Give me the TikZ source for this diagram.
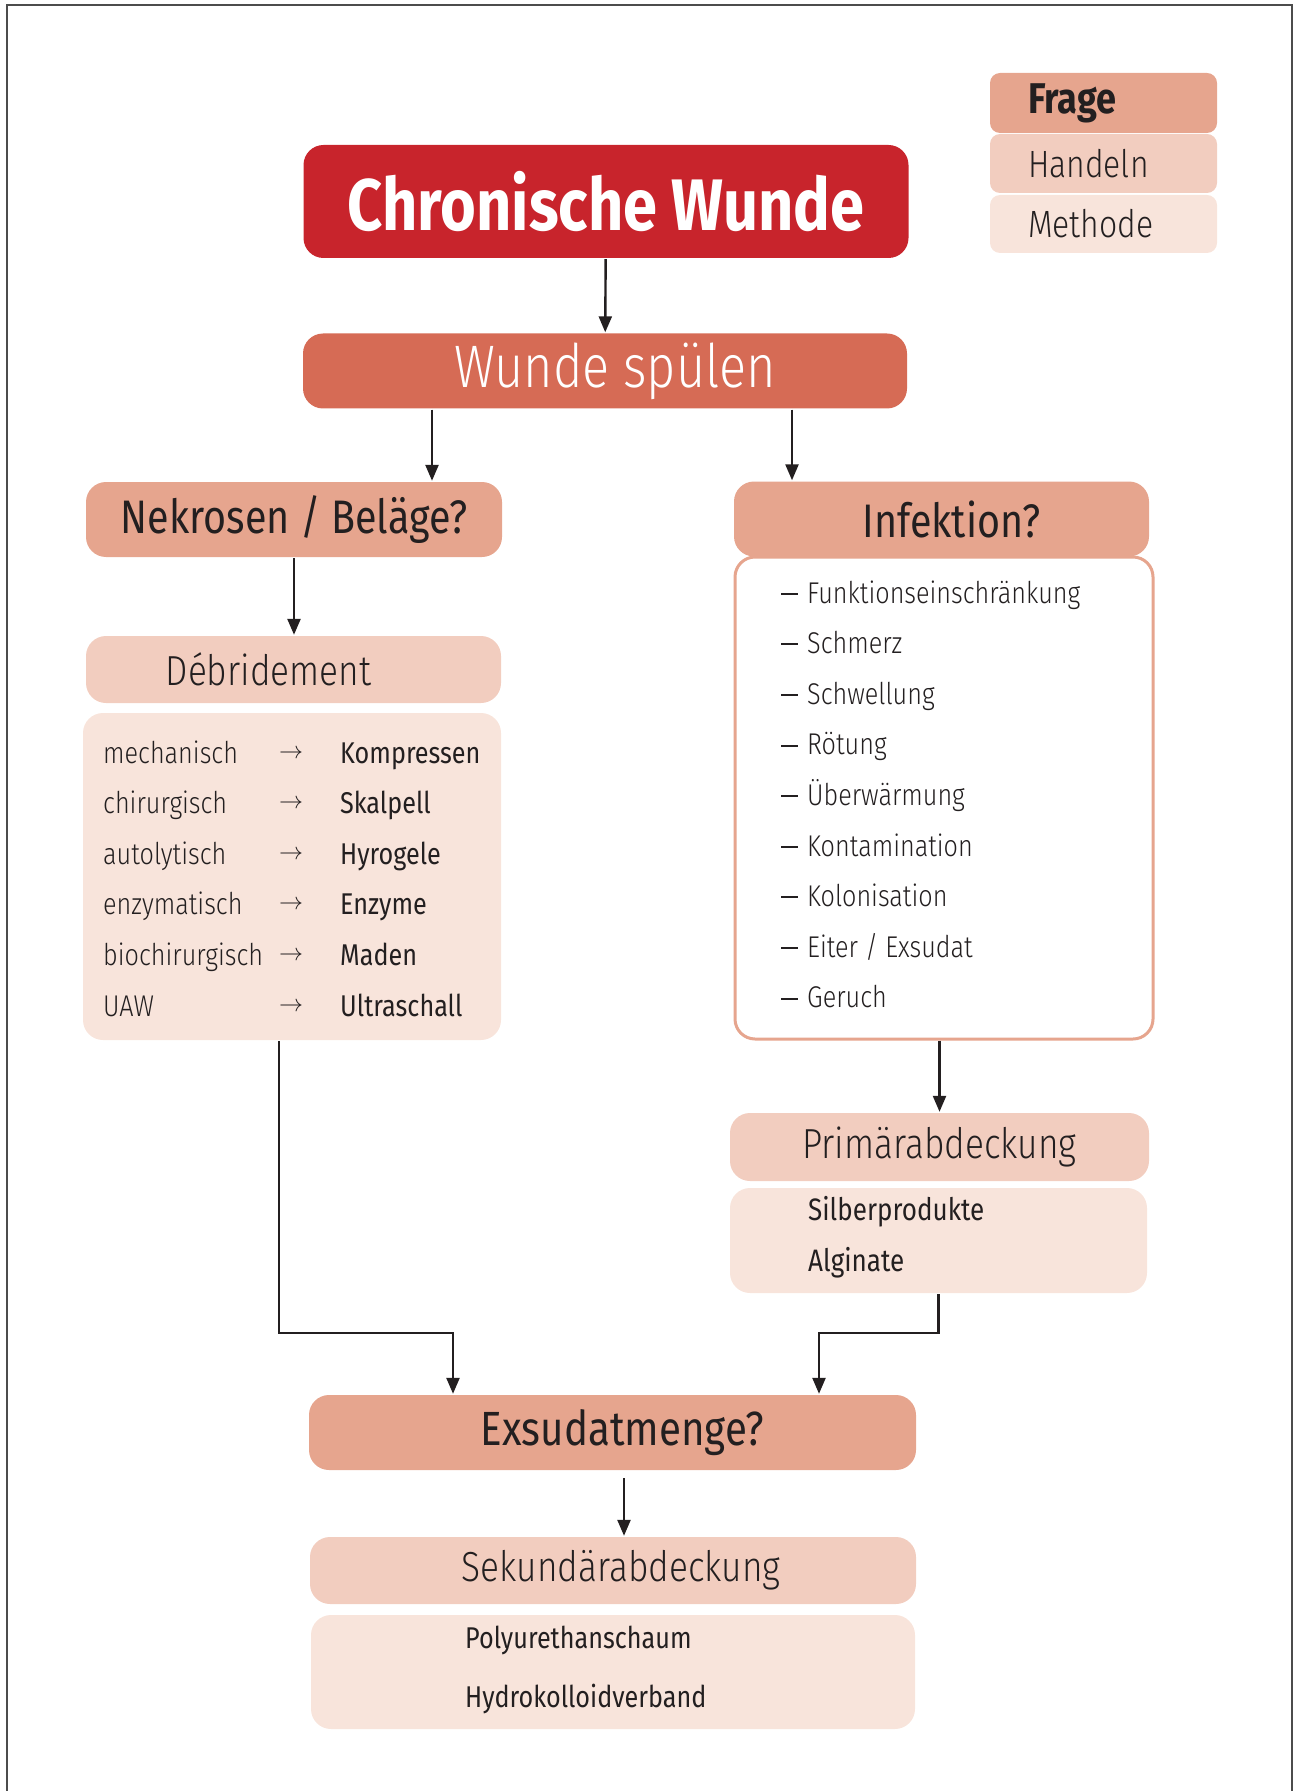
\documentclass[tikz,border=0pt]{standalone}
\usepackage{fontspec}
\setmainfont{Fira Sans Light}[FakeStretch=0.84, BoldFont={Fira Sans Bold}]
\newfontfamily\regfont{Fira Sans}[FakeStretch=0.84]
\usetikzlibrary{arrows.meta,positioning}
\definecolor{wundrot}{HTML}{C8242C}
\definecolor{spuelrot}{HTML}{D66B55}
\definecolor{frage}{HTML}{E6A58E}
\definecolor{handeln}{HTML}{F2CDBF}
\definecolor{methode}{HTML}{F8E4DB}
\definecolor{ink}{HTML}{231F20}
\newcommand{\strich}{\rule[4.1pt]{8.5pt}{1pt}\hspace{4.5pt}}
\newcommand{\pfeil}{{\fontsize{12}{14}\selectfont\raisebox{2.5pt}{$\rightarrow$}}}

\begin{document}
\begin{tikzpicture}[x=0.5pt,y=-0.5pt,->,>={Triangle[length=8pt,width=6.5pt]},line width=1.2pt,color=ink]
   \useasboundingbox (0,0) rectangle (1294,1791);
   \tikzstyle{box}=[rectangle, rounded corners=10pt, inner sep=0pt, text=ink]
   \tikzstyle{frage}=[box, fill=frage, minimum height=37.5pt, font=\regfont\fontsize{23.5}{26}\selectfont]
   \tikzstyle{handeln}=[box, fill=handeln, minimum height=33.5pt, font=\fontsize{21}{24}\selectfont]
   \tikzstyle{methode}=[box, fill=methode]
   \tikzstyle{zeile}=[inner sep=0pt, font=\fontsize{15}{18}\selectfont]
   \tikzstyle{legende}=[box, rounded corners=5pt, minimum width=113.5pt, text width=75.5pt, align=left, font=\fontsize{19}{22}\selectfont]
   % frame, open at the bottom
   \draw[-, line width=1pt, black!70] (7,1791) -- (7,5) -- (1292,5) -- (1292,1791);
   % legend
   \node[legende, fill=frage, minimum height=30pt, font=\bfseries\fontsize{21.5}{24}\selectfont] (lfrage) at (1103.5,103) {Frage};
   \node[legende, fill=handeln, minimum height=29.5pt] (lhandeln) at (1103.5,163.5) {Handeln};
   \node[legende, fill=methode, minimum height=29pt] (lmethode) at (1103.5,224) {Methode};
   % main column
   \node[box, fill=wundrot, minimum width=302.5pt, minimum height=56.5pt, text=white, font=\bfseries\fontsize{36.5}{41}\selectfont] (chronisch) at (606,201.5) {Chronische Wunde};
   \node[box, fill=spuelrot, minimum width=302pt, minimum height=37.5pt, text=white, font=\fontsize{30}{34}\selectfont] (spuelen) at (605,371) {\hspace*{10pt}Wunde spülen};
   \node[frage, minimum width=208pt] (nekrosen) at (294,519.5) {Nekrosen / Beläge?};
   \node[box, fill=white, draw=frage, line width=1.5pt, minimum width=209pt, minimum height=241pt] (symptome) at (944,798) {};
   \node[frage, minimum width=207.5pt] (infektion) at (941.5,519) {\hspace*{10pt}Infektion?};
   % left branch
   \node[handeln, minimum width=207.5pt] (debride) at (293.5,669.5) {\hspace{-25pt}Débridement};
   \node[methode, minimum width=209pt, minimum height=163.5pt] (verfahren) at (292,876.5) {};
   \foreach \i/\art/\mittel in {0/mechanisch/Kompressen,1/chirurgisch/Skalpell,2/autolytisch/Hyrogele,3/enzymatisch/Enzyme,4/biochirurgisch/Maden,5/UAW/Ultraschall} {
       \node[zeile, anchor=base west] (art\i) at (102,763+50.6*\i) {\art};
       \node[zeile, anchor=base] (pfeil\i) at (291,763+50.6*\i) {\pfeil};
       \node[zeile, anchor=base west, font=\regfont\fontsize{15}{18}\selectfont] (mittel\i) at (339,763+50.6*\i) {\mittel};
   }
   % right branch
   \foreach \i/\zeichen in {0/Funktionseinschränkung,1/Schmerz,2/Schwellung,3/Rötung,4/Überwärmung,5/Kontamination,6/Kolonisation,7/{Eiter / Exsudat},8/Geruch} {
       \node[zeile, anchor=base west] (s\i) at (780,603+50.6*\i) {\strich\zeichen};
   }
   \node[handeln, minimum width=209.5pt, minimum height=34pt] (primaer) at (939.5,1147) {Primärabdeckung};
   \node[methode, minimum width=208.5pt, minimum height=52.5pt] (silber) at (938.5,1240.5) {};
   \node[zeile, anchor=base west, font=\regfont\fontsize{15.5}{18}\selectfont] (silber1) at (807,1220) {Silberprodukte};
   \node[zeile, anchor=base west, font=\regfont\fontsize{15.5}{18}\selectfont] (silber2) at (807,1271) {Alginate};
   % bottom
   \node[frage, minimum width=303.5pt, font=\regfont\fontsize{24}{27}\selectfont] (exsudat) at (612.5,1432.5) {\hspace*{10pt}Exsudatmenge?};
   \node[handeln, minimum width=303pt] (sekundaer) at (613,1570.5) {\hspace*{8pt}Sekundärabdeckung};
   \node[methode, minimum width=302pt, minimum height=57pt] (schaum) at (613,1672) {};
   \node[zeile, anchor=base west, font=\regfont\fontsize{15}{18}\selectfont] (schaum1) at (464,1648) {Polyurethanschaum};
   \node[zeile, anchor=base west, font=\regfont\fontsize{15}{18}\selectfont] (schaum2) at (464,1707) {Hydrokolloidverband};
   % connectors
   \coordinate (links) at (432,0);
   \coordinate (rechts) at (792,0);
   \coordinate (knick) at (0,1333);
   \coordinate (vl) at (279,0);
   \coordinate (el) at (453,0);
   \coordinate (er) at (819,0);
   \coordinate (ex) at (624,0);
   \path (chronisch) edge (spuelen);
   \path (spuelen.south -| links) edge (nekrosen.north -| links);
   \path (spuelen.south -| rechts) edge (infektion.north -| rechts);
   \path (nekrosen.south) edge (nekrosen.south |- debride.north);
   \draw (verfahren.south -| vl) |- (knick -| el) -- (exsudat.north -| el);
   \path (symptome.south -| primaer.north) edge (primaer.north);
   \draw (silber.south) |- (knick -| er) -- (exsudat.north -| er);
   \path ([yshift=-3.5pt]exsudat.south -| ex) edge (sekundaer.north -| ex);
\end{tikzpicture}
\end{document}
